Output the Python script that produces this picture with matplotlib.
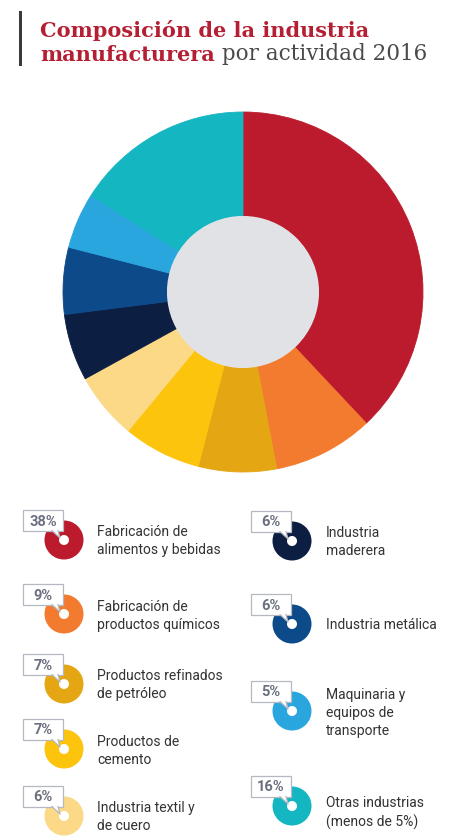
import numpy as np
import matplotlib
matplotlib.use("Agg")
import matplotlib.pyplot as plt
from matplotlib.patches import Rectangle, Polygon, Circle

# shares of manufacturing by activity, 2016
categories = [
    "Fabricación de\nalimentos y bebidas",
    "Fabricación de\nproductos químicos",
    "Productos refinados\nde petróleo",
    "Productos de\ncemento",
    "Industria textil y\nde cuero",
    "Industria\nmaderera",
    "Industria metálica",
    "Maquinaria y\nequipos de\ntransporte",
    "Otras industrias\n(menos de 5%)",
]
shares = [38, 9, 7, 7, 6, 6, 6, 5, 16]
colors = ["#bb1b2c", "#f27b2f", "#e5a614", "#fdc40d", "#fcd986",
          "#0c1e42", "#0d4a8a", "#2aa6df", "#14b6c2"]

W, H = 453, 837
fig = plt.figure(figsize=(W / 100, H / 100), dpi=100)
ax = fig.add_axes([0, 0, 1, 1])

sans = "Roboto"
red = "#b51f33"
grey_txt = "#333333"

# main donut (pixel coords, y axis flipped later -> angles run clockwise from top)
cx, cy, R = 243, 293, 180
wedges, _ = ax.pie(shares, colors=colors, center=(cx, cy), radius=R,
                   startangle=-90, counterclock=True,
                   wedgeprops=dict(width=R - 76, linewidth=0.6))
for w in wedges:
    w.set_edgecolor(w.get_facecolor())
ax.add_patch(Circle((cx, cy), 76, facecolor="#e1e2e6", edgecolor="none", zorder=3))

# legend: icon centres for left and right columns
icon_pos = [(64, 541), (64, 615), (64, 685), (64, 750), (64, 817),
            (292, 542), (292, 625), (292, 712), (292, 807)]
text_dy = [0, 1, 0, 1, 0, 0, 0, 1, 6]

for i, (lab, val, col) in enumerate(zip(categories, shares, colors)):
    x, y = icon_pos[i]
    ax.pie([1], colors=[col], center=(x, y), radius=19.5,
           wedgeprops=dict(width=14.5, linewidth=0))
    # percent callout box
    ax.add_patch(Rectangle((x - 41, y - 30), 40, 21, facecolor="white",
                           edgecolor="#b5b8c0", linewidth=0.9, zorder=4))
    tail = [(x - 12, y - 9.4), (x - 4, y - 2), (x - 6, y - 9.4)]
    ax.add_patch(Polygon(tail, closed=True, facecolor="white",
                         edgecolor="none", zorder=5))
    ax.plot([tail[0][0], tail[1][0], tail[2][0]],
            [tail[0][1], tail[1][1], tail[2][1]],
            color="#b5b8c0", lw=0.9, zorder=5)
    ax.text(x - 21, y - 19.5, f"{val}%", ha="center", va="center",
            fontsize=10.5, fontweight="bold", color="#6b7080",
            family=sans, zorder=6)
    tx = x + 33 if x < 200 else x + 34
    ax.text(tx, y + text_dy[i], lab, ha="left", va="center", fontsize=10,
            color=grey_txt, family=sans, linespacing=1.35)

# title block
ax.add_patch(Rectangle((18.5, 12), 3, 55, facecolor="#3a3a3a", edgecolor="none"))
ax.text(40, 37, "Composición de la industria", fontsize=15, fontweight="bold",
        color=red, family="DejaVu Serif", va="baseline")
t2 = ax.text(40, 61, "manufacturera", fontsize=15, fontweight="bold",
             color=red, family="DejaVu Serif", va="baseline")
ax.annotate(" por actividad 2016", xy=(1, 0), xycoords=t2, va="bottom",
            fontsize=15.5, color="#4a4a4a", family="DejaVu Serif")

ax.set_xlim(0, W)
ax.set_ylim(H, 0)
ax.set_aspect("equal")
ax.axis("off")

fig.savefig("out.png", dpi=100, facecolor="white")
